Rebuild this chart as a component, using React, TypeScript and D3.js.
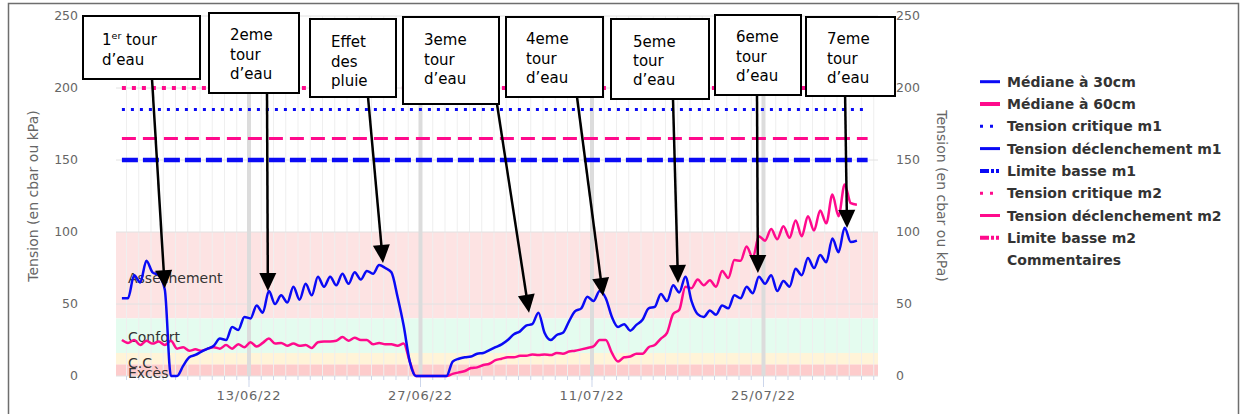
import React from 'react';
import * as d3 from 'd3';

// ---------- DATA ----------
const SERIES_START = new Date(2022, 5, 2, 15, 0); // first sample
const STEP_HOURS = 12;

const median30 = [
  54, 54, 70, 65, 80, 72, 70, 60, 0, 0,
  7, 13, 14.6, 17, 19, 21, 26, 25, 34, 32,
  41, 40, 49, 44, 59, 50, 56, 51, 62, 53,
  64, 56, 69, 62, 69, 63, 71, 64, 72, 67,
  73, 71, 77, 75, 72, 55, 35, 10, 0, 0,
  0, 0, 0, 0, 10, 12, 13, 13.5, 15.5, 16,
  18, 20, 22, 25, 29, 31, 35, 36, 44, 30,
  25, 28.5, 30, 38, 45, 47, 55, 52, 59, 54,
  41, 34, 36, 31.5, 35.5, 39, 47, 48, 57, 52,
  63, 58, 69, 52, 43, 41, 45.5, 42.5, 49, 47,
  56, 54, 62, 57.5, 69, 64, 70, 59, 66, 62,
  74.5, 70, 82, 75, 84, 79, 95.5, 86, 103, 93,
  94,
];

const median60 = [
  25, 23, 25, 21.5, 24.5, 22.5, 24, 21.5, 24.5, 19,
  20, 17.5, 18.5, 17.5, 19, 20, 19, 21.5, 19, 22,
  20, 23.5, 20.5, 23, 26, 22.5, 23, 21, 22.5, 21,
  21.5, 19.5, 23.5, 24, 24, 24.5, 27, 24.5, 26.5, 25,
  25, 22, 23, 22, 22, 21, 22.5, 10, 0, 0,
  0, 0, 0, 0, 1.5, 2.5, 3.5, 5.5, 6, 7.6,
  8.5, 11, 12, 13, 13, 14, 14, 15, 14.5, 15,
  14.5, 16, 15.5, 17, 17.5, 18.5, 19.5, 20.5, 25, 25,
  16, 10, 13, 13.5, 15.5, 15.5, 20, 21.5, 26, 30,
  43, 46, 62, 61, 67, 63, 66.5, 62, 73, 68,
  80.5, 80, 90, 82, 97, 94, 102, 95, 104, 96,
  108, 97, 111, 101, 115, 106, 126, 111, 133, 120,
  119,
];

const xDomain: [Date, Date] = [new Date(2022, 5, 2, 3, 26), new Date(2022, 7, 3, 8, 20)];
const xTickDates = [new Date(2022, 5, 13), new Date(2022, 5, 27), new Date(2022, 6, 11), new Date(2022, 6, 25)];
const xTickLabels = ['13/06/22', '27/06/22', '11/07/22', '25/07/22'];
const yTicks = [0, 50, 100, 150, 200, 250];

const bandNames = ['Assèchement', 'Confort', 'C.C', 'Excès'];
const bandFrom = [40, 16, 8, 0];
const bandTo = [100, 40, 16, 8];

const thresholdNames = ['Tension critique m2', 'Tension critique m1', 'Limite basse m2', 'Limite basse m1'];
const thresholdValues = [200, 185, 165, 150];
const thresholdStart = new Date(2022, 5, 2, 15);
const thresholdEnd = new Date(2022, 7, 2, 12);

const legendNames = [
  'Médiane à 30cm',
  'Médiane à 60cm',
  'Tension critique m1',
  'Tension déclenchement m1',
  'Limite basse m1',
  'Tension critique m2',
  'Tension déclenchement m2',
  'Limite basse m2',
  'Commentaires',
];

const annotationLines = [
  ['1|er| tour', 'd’eau'],
  ['2eme', 'tour', 'd’eau'],
  ['Effet', 'des', 'pluie'],
  ['3eme', 'tour', 'd’eau'],
  ['4eme', 'tour', 'd’eau'],
  ['5eme', 'tour', 'd’eau'],
  ['6eme', 'tour', 'd’eau'],
  ['7eme', 'tour', 'd’eau'],
];
const annotationDates = [
  new Date(2022, 5, 6, 3, 0),
  new Date(2022, 5, 14, 13, 0),
  new Date(2022, 5, 23, 22, 30),
  new Date(2022, 6, 5, 20, 40),
  new Date(2022, 6, 11, 21, 30),
  new Date(2022, 6, 18, 0, 30),
  new Date(2022, 6, 24, 13, 0),
  new Date(2022, 6, 31, 19, 40),
];
const annotationValues = [61, 59, 78.5, 44, 55.6, 64.6, 71.5, 102.8];

// ---------- LAYOUT / STYLE ----------
const W = 1240;
const H = 414;
const PLOT = { left: 116, right: 878, top: 16, bottom: 376 };
const BLUE = '#0a0af5';
const PINK = '#ff0a8c';
const FONT = '"DejaVu Sans", Verdana, sans-serif';

const bandColors = ['#fde3e3', '#e4fcef', '#fff4d8', '#fdcccc'];
const bandLabelDy = [8, 6, 9, 8];

const thresholdStyles = [
  { color: PINK, width: 4, dash: '4,6' },
  { color: BLUE, width: 3, dash: '3,6' },
  { color: PINK, width: 3, dash: '14,7' },
  { color: BLUE, width: 4.5, dash: '16,5' },
];

const legendStyles = [
  { color: BLUE, width: 3, dash: '' },
  { color: PINK, width: 4, dash: '' },
  { color: BLUE, width: 3, dash: '3,7' },
  { color: BLUE, width: 3, dash: '' },
  { color: BLUE, width: 4, dash: '9,2,3,2,3,1' },
  { color: PINK, width: 3, dash: '3,7' },
  { color: PINK, width: 3, dash: '' },
  { color: PINK, width: 4, dash: '9,2,3,2,3,1' },
  null,
];

const boxes = [
  { x: 83, y: 16, w: 117, h: 63, tx: 102, ty: [45, 65], ax: 152, ay: 79 },
  { x: 209, y: 13, w: 90, h: 80, tx: 230, ty: [40, 60, 79], ax: 267, ay: 93 },
  { x: 310, y: 19, w: 86, h: 78, tx: 331, ty: [47, 67, 86], ax: 368, ay: 97 },
  { x: 403, y: 17, w: 96, h: 87, tx: 424, ty: [45, 65, 84], ax: 497, ay: 104 },
  { x: 506, y: 17, w: 97, h: 80, tx: 526, ty: [44, 64, 83], ax: 577, ay: 97 },
  { x: 611, y: 19, w: 98, h: 80, tx: 633, ty: [47, 66, 85], ax: 673, ay: 99 },
  { x: 715, y: 15, w: 86, h: 80, tx: 736, ty: [42, 62, 81], ax: 757, ay: 95 },
  { x: 806, y: 17, w: 89, h: 79, tx: 827, ty: [44, 64, 83], ax: 845, ay: 88 },
];

function sampleDate(i: number) {
  return new Date(SERIES_START.getTime() + i * STEP_HOURS * 3600 * 1000);
}

function arrowHead(x1: number, y1: number, x2: number, y2: number) {
  const dx = x2 - x1;
  const dy = y2 - y1;
  const len = Math.sqrt(dx * dx + dy * dy);
  const ux = dx / len;
  const uy = dy / len;
  const L = 18;
  const hw = 8.5;
  const bx = x2 - ux * L;
  const by = y2 - uy * L;
  const px = -uy;
  const py = ux;
  return `${x2},${y2} ${bx + px * hw},${by + py * hw} ${bx - px * hw},${by - py * hw}`;
}

export default function App() {
  const x = d3.scaleTime().domain(xDomain).range([PLOT.left, PLOT.right]);
  const y = d3.scaleLinear().domain([0, 250]).range([PLOT.bottom, PLOT.top]);

  const line = d3
    .line<number>()
    .x((_, i) => x(sampleDate(i)))
    .y((d) => y(d))
    .curve(d3.curveMonotoneX);

  const days = d3.timeDay.range(d3.timeDay.ceil(xDomain[0]), xDomain[1]);

  return (
    <svg
      width={W}
      height={H}
      style={{ position: 'absolute', left: 0, top: 0, background: '#fff' }}
      fontFamily={FONT}
    >
      <rect x={0} y={0} width={W} height={H} fill="#fff" />
      {/* frame */}
      <path d={`M8.5,${H} V3.5 H1238.5 V${H}`} fill="none" stroke="#6e6e6e" strokeWidth={1.5} />

      {/* bands */}
      {bandNames.map((b, i) => (
        <rect
          key={b}
          x={PLOT.left}
          y={y(bandTo[i])}
          width={PLOT.right - PLOT.left}
          height={y(bandFrom[i]) - y(bandTo[i])}
          fill={bandColors[i]}
        />
      ))}

      {/* daily grid */}
      {days.map((d, i) => (
        <line key={i} x1={x(d)} x2={x(d)} y1={PLOT.top} y2={PLOT.bottom} stroke="#efefef" strokeWidth={1} />
      ))}
      {/* horizontal grid */}
      {yTicks.map((t) => (
        <line key={t} x1={PLOT.left} x2={PLOT.right} y1={y(t)} y2={y(t)} stroke="#e2e2e2" strokeWidth={1} />
      ))}
      {/* thick date grid */}
      {xTickDates.map((d, i) => (
        <line key={i} x1={x(d)} x2={x(d)} y1={PLOT.top} y2={PLOT.bottom} stroke="#dcdcdc" strokeWidth={4} />
      ))}

      {/* bottom ticks */}
      {days.map((d, i) => (
        <line key={i} x1={x(d)} x2={x(d)} y1={PLOT.bottom} y2={PLOT.bottom + 4} stroke="#ccd6eb" strokeWidth={1} />
      ))}
      {xTickDates.map((d, i) => (
        <line key={i} x1={x(d)} x2={x(d)} y1={PLOT.bottom} y2={PLOT.bottom + 11} stroke="#ccd6eb" strokeWidth={1} />
      ))}
      {xTickDates.map((d, i) => (
        <text key={i} x={x(d)} y={400} textAnchor="middle" fontSize={13} fill="#666" letterSpacing={0.8}>
          {xTickLabels[i]}
        </text>
      ))}

      {/* y ticks */}
      {yTicks.map((t) => (
        <text key={t} x={78} y={y(t) + 4} textAnchor="end" fontSize={12.5} fill="#666">
          {t}
        </text>
      ))}
      {yTicks.map((t) => (
        <text key={t} x={896} y={y(t) + 4} textAnchor="start" fontSize={12.5} fill="#666">
          {t}
        </text>
      ))}
      <text transform={`translate(38,196) rotate(-90)`} textAnchor="middle" fontSize={14} fill="#666">
        Tension (en cbar ou kPa)
      </text>
      <text transform={`translate(937,196) rotate(90)`} textAnchor="middle" fontSize={14} fill="#666">
        Tension (en cbar ou kPa)
      </text>

      {/* band labels */}
      {bandNames.map((b, i) => (
        <text
          key={b}
          x={128}
          y={y((bandFrom[i] + bandTo[i]) / 2) + bandLabelDy[i]}
          fontSize={14}
          fill="#333"
        >
          {b}
        </text>
      ))}

      {/* thresholds */}
      {thresholdValues.map((v, i) => (
        <line
          key={thresholdNames[i]}
          x1={x(thresholdStart)}
          x2={x(thresholdEnd)}
          y1={y(v)}
          y2={y(v)}
          stroke={thresholdStyles[i].color}
          strokeWidth={thresholdStyles[i].width}
          strokeDasharray={thresholdStyles[i].dash}
        />
      ))}

      {/* series */}
      <path d={line(median60) || ''} fill="none" stroke={PINK} strokeWidth={2.5} strokeLinejoin="round" />
      <path d={line(median30) || ''} fill="none" stroke={BLUE} strokeWidth={2.5} strokeLinejoin="round" />

      {/* annotations */}
      {annotationLines.map((lines, i) => {
        const b = boxes[i];
        const tx = x(annotationDates[i]);
        const ty = y(annotationValues[i]);
        const dx = tx - b.ax;
        const dy = ty - b.ay;
        const len = Math.sqrt(dx * dx + dy * dy);
        const ex = tx - (dx / len) * 14;
        const ey = ty - (dy / len) * 14;
        return (
          <g key={i}>
            <line x1={b.ax} y1={b.ay} x2={ex} y2={ey} stroke="#000" strokeWidth={2.5} />
            <polygon points={arrowHead(b.ax, b.ay, tx, ty)} fill="#000" />
            <rect x={b.x} y={b.y} width={b.w} height={b.h} fill="#fff" stroke="#000" strokeWidth={2} />
            {lines.map((ln, j) => {
              if (ln.includes('|')) {
                const [a, sup, rest] = ln.split('|');
                return (
                  <text key={j} x={b.tx} y={b.ty[j]} fontSize={15} fill="#000">
                    <tspan>{a}</tspan>
                    <tspan fontSize={9.5} dy={-6}>{sup}</tspan>
                    <tspan dy={6}>{rest}</tspan>
                  </text>
                );
              }
              return (
                <text key={j} x={b.tx} y={b.ty[j]} fontSize={15} fill="#000">
                  {ln}
                </text>
              );
            })}
          </g>
        );
      })}

      {/* legend */}
      {legendNames.map((n, i) => {
        const cy = 81.7 + i * 22.3;
        const s = legendStyles[i];
        return (
          <g key={n}>
            {s && (
              <line
                x1={980}
                x2={1000}
                y1={cy}
                y2={cy}
                stroke={s.color}
                strokeWidth={s.width}
                strokeDasharray={s.dash}
              />
            )}
            <text x={1007} y={cy + 5} fontSize={14} fontWeight="bold" fill="#333">
              {n}
            </text>
          </g>
        );
      })}
    </svg>
  );
}
